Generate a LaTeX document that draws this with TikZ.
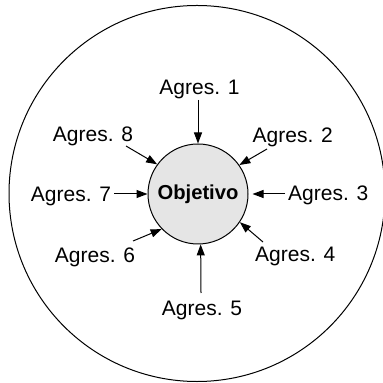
\documentclass[tikz,border=0pt]{standalone}
\usepackage{fontspec}
\setmainfont{Liberation Sans}
\usetikzlibrary{arrows.meta}
\definecolor{target}{gray}{0.90}

\begin{document}
\begin{tikzpicture}[x=0.5pt, y=-0.5pt,
  every node/.style={font=\fontsize{10.5}{12}\selectfont, inner sep=0pt},
  agres/.style={anchor=base},
  attack/.style={-{Triangle[length=5.5pt, width=4pt]}, line width=0.5pt}]
\useasboundingbox (0,0) rectangle (382,383);
% outer environment
\draw[line width=0.5pt] (197,193.5) circle[radius=188];
% objective
\node[circle, draw, line width=0.5pt, fill=target, minimum size=50pt,
  font=\fontsize{10.1}{12}\selectfont\bfseries] (obj) at (198,194) {Objetivo};
% attackers
\node[agres] (a1) at (199.5,94.3) {Agres. 1};
\node[agres] (a2) at (292.8,142.7) {Agres. 2};
\node[agres] (a3) at (328.3,200.7) {Agres. 3};
\node[agres] (a4) at (295.3,261.7) {Agres. 4};
\node[agres] (a5) at (202,315) {Agres. 5};
\node[agres] (a6) at (95,263) {Agres. 6};
\node[agres] (a7) at (71,201.7) {Agres. 7};
\node[agres] (a8) at (93,141.7) {Agres. 8};
% arrow tails
\coordinate (t1) at (198,100);
\coordinate (t2) at (267,149);
\coordinate (t3) at (285,194);
\coordinate (t4) at (263,242);
\coordinate (t5) at (201,293);
\coordinate (t6) at (133,241);
\coordinate (t7) at (114,194);
\coordinate (t8) at (126,146);
\draw[attack] (t1) -- (obj.north);
\draw[attack] (t2) -- (obj.35);
\draw[attack] (t3) -- ([xshift=2pt]obj.east);
\draw[attack] (t4) -- (obj.326);
\draw[attack] (t5) -- (obj.273);
\draw[attack] (t6) -- (obj.224);
\draw[attack] (t7) -- (obj.west);
\draw[attack] (t8) -- (obj.144);
\end{tikzpicture}
\end{document}
